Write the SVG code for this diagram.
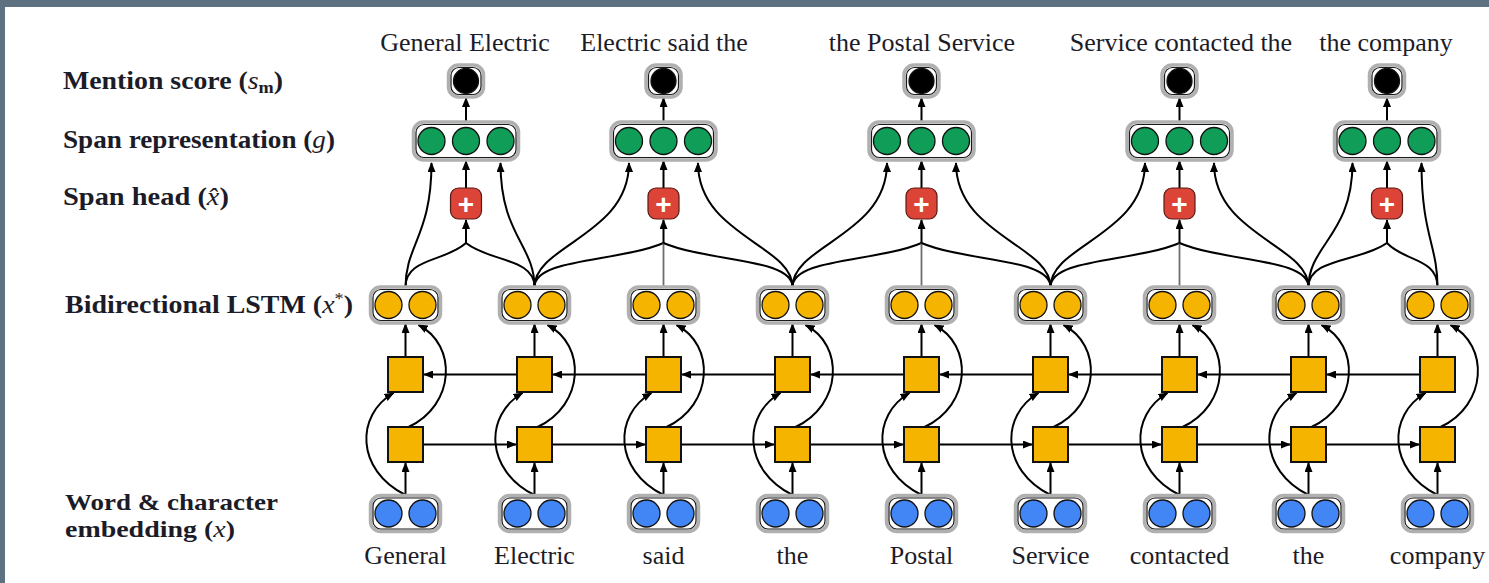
<svg xmlns="http://www.w3.org/2000/svg" xmlns:xlink="http://www.w3.org/1999/xlink" width="1489" height="583" viewBox="0 0 1489 583">
  <style>
    .frame-out { fill: #ffffff; stroke: #b0b0b0; stroke-width: 3.5; }
    .frame-in { fill: none; stroke: #1a1a1a; stroke-width: 1.2; }
    .dot { stroke: #111; stroke-width: 1.3; }
    .cell { fill: #f4b400; stroke: #111; stroke-width: 2; }
    .link { fill: none; stroke: #000; stroke-width: 2; marker-end: url(#arrow); }
    .stem { fill: none; stroke: #000; stroke-width: 2; }
    .stem-thin { fill: none; stroke: #6e6e6e; stroke-width: 1.8; }
    .plus-box { fill: #db4437; stroke: #5a1a14; stroke-width: 1.2; }
    .plus { font-family: "Liberation Sans", Arial, sans-serif; font-size: 28px; font-weight: bold; fill: #fff; text-anchor: middle; }
    .lbl { font-family: "Liberation Serif", "Times New Roman", serif; font-size: 26px; font-weight: bold; fill: #1c1c28; }
    .lbl-small { font-size: 24px; }
    .math { font-weight: normal; font-style: italic; }
    .word { font-family: "Liberation Serif", "Times New Roman", serif; font-size: 26px; fill: #1c1c28; text-anchor: middle; }
  </style>
  <defs>
    <marker id="arrow" viewBox="0 0 10 8" refX="9" refY="4" markerWidth="10" markerHeight="8" markerUnits="userSpaceOnUse" orient="auto">
      <path d="M0,0 L10,4 L0,8 z" fill="#000"/>
    </marker>
    <!-- two-unit vector (embeddings, BiLSTM output); dot colour comes from the fill on <use> -->
    <g id="pair">
      <rect class="frame-out" x="-35" y="-18" width="70" height="36" rx="10"/>
      <rect class="frame-in" x="-32.5" y="-15.5" width="65" height="31" rx="8"/>
      <circle class="dot" cx="-17" cy="0" r="13.5"/>
      <circle class="dot" cx="17" cy="0" r="13.5"/>
    </g>
    <!-- three-unit span vector -->
    <g id="triple">
      <rect class="frame-out" x="-52.5" y="-19" width="105" height="38" rx="10"/>
      <rect class="frame-in" x="-50" y="-16.5" width="100" height="33" rx="8"/>
      <circle class="dot" cx="-34.5" cy="0" r="13.5" fill="#0f9d58"/>
      <circle class="dot" cx="0" cy="0" r="13.5" fill="#0f9d58"/>
      <circle class="dot" cx="34.5" cy="0" r="13.5" fill="#0f9d58"/>
    </g>
    <!-- scalar score -->
    <g id="single">
      <rect class="frame-out" x="-17.5" y="-16" width="35" height="32" rx="10"/>
      <rect class="frame-in" x="-15" y="-13.5" width="30" height="27" rx="8"/>
      <circle class="dot" cx="0" cy="0" r="12.5" fill="#000"/>
    </g>
    <rect id="cellBox" class="cell" x="-17.5" y="-17.5" width="35" height="35"/>
    <!-- per-token links inside the LSTM block, relative to the token column -->
    <g id="tokenLinks">
      <path class="link" d="M0,495 L0,463"/>
      <path class="link" d="M0,357 L0,324"/>
      <path class="link" d="M0,495 C-50,470 -50,415 -12,393"/>
      <path class="link" d="M3,427 C50,405 52,345 13,325"/>
    </g>
    <path id="bwdLink" class="link" d="M111.5,374.5 L18.5,374.5"/>
    <path id="fwdLink" class="link" d="M17.5,444.5 L110.5,444.5"/>
  </defs>

  <rect x="0" y="0" width="1489" height="583" fill="#fff"/>
  <rect x="0" y="0" width="1489" height="7" fill="#5d7180"/>
  <rect x="0" y="0" width="5" height="583" fill="#5d7180"/>

  <!-- row labels -->
  <g id="row-labels">
    <text class="lbl" x="63" y="89" textLength="220" lengthAdjust="spacingAndGlyphs">Mention score <tspan>(</tspan><tspan class="math">s</tspan><tspan font-size="17" dy="4">m</tspan><tspan dy="-4">)</tspan></text>
    <text class="lbl" x="63" y="148" textLength="272" lengthAdjust="spacingAndGlyphs">Span representation (<tspan class="math">g</tspan>)</text>
    <text class="lbl" x="63" y="205" textLength="166" lengthAdjust="spacingAndGlyphs">Span head (<tspan class="math">x̂</tspan>)</text>
    <text class="lbl" x="65" y="313" textLength="288" lengthAdjust="spacingAndGlyphs">Bidirectional LSTM (<tspan class="math">x</tspan><tspan font-weight="normal" font-size="17" dy="-9">*</tspan><tspan dy="9">)</tspan></text>
    <text class="lbl lbl-small"><tspan x="65" y="510" textLength="213" lengthAdjust="spacingAndGlyphs">Word &amp; character</tspan><tspan x="65" dy="27" textLength="170" lengthAdjust="spacingAndGlyphs">embedding (<tspan class="math">x</tspan>)</tspan></text>
  </g>

  <!-- connectors -->
  <g id="connectors">
    <use href="#tokenLinks" x="405.5"/>
    <use href="#tokenLinks" x="534.5"/>
    <use href="#tokenLinks" x="663.5"/>
    <use href="#tokenLinks" x="792.5"/>
    <use href="#tokenLinks" x="921.5"/>
    <use href="#tokenLinks" x="1050.5"/>
    <use href="#tokenLinks" x="1179.5"/>
    <use href="#tokenLinks" x="1308.5"/>
    <use href="#tokenLinks" x="1437.5"/>

    <use href="#bwdLink" x="405.5"/>
    <use href="#bwdLink" x="534.5"/>
    <use href="#bwdLink" x="663.5"/>
    <use href="#bwdLink" x="792.5"/>
    <use href="#bwdLink" x="921.5"/>
    <use href="#bwdLink" x="1050.5"/>
    <use href="#bwdLink" x="1179.5"/>
    <use href="#bwdLink" x="1308.5"/>

    <use href="#fwdLink" x="405.5"/>
    <use href="#fwdLink" x="534.5"/>
    <use href="#fwdLink" x="663.5"/>
    <use href="#fwdLink" x="792.5"/>
    <use href="#fwdLink" x="921.5"/>
    <use href="#fwdLink" x="1050.5"/>
    <use href="#fwdLink" x="1179.5"/>
    <use href="#fwdLink" x="1308.5"/>

    <!-- span endpoints into span representations -->
    <path class="link" d="M405.5,287 C405.5,245 431.5,235 431.5,163"/>
    <path class="link" d="M534.5,287 C534.5,245 500.5,235 500.5,163"/>
    <path class="link" d="M534.5,287 C534.5,245 629,235 629,163"/>
    <path class="link" d="M792.5,287 C792.5,245 698,235 698,163"/>
    <path class="link" d="M792.5,287 C792.5,245 887,235 887,163"/>
    <path class="link" d="M1050.5,287 C1050.5,245 956,235 956,163"/>
    <path class="link" d="M1050.5,287 C1050.5,245 1145,235 1145,163"/>
    <path class="link" d="M1308.5,287 C1308.5,245 1214,235 1214,163"/>
    <path class="link" d="M1308.5,287 C1308.5,245 1352.5,235 1352.5,163"/>
    <path class="link" d="M1437.5,287 C1437.5,245 1421.5,235 1421.5,163"/>

    <!-- span tokens into the head attention -->
    <path class="stem" d="M405.5,287 C405.5,258 444.8,262 466,243"/>
    <path class="stem" d="M534.5,287 C534.5,258 490,262 466,243"/>
    <path class="stem" d="M534.5,287 C534.5,258 618.5,262 663.5,243"/>
    <path class="stem-thin" d="M663.5,287 L663.5,243"/>
    <path class="stem" d="M792.5,287 C792.5,258 708.5,262 663.5,243"/>
    <path class="stem" d="M792.5,287 C792.5,258 876.5,262 921.5,243"/>
    <path class="stem-thin" d="M921.5,287 L921.5,243"/>
    <path class="stem" d="M1050.5,287 C1050.5,258 966.5,262 921.5,243"/>
    <path class="stem" d="M1050.5,287 C1050.5,258 1134.5,262 1179.5,243"/>
    <path class="stem-thin" d="M1179.5,287 L1179.5,243"/>
    <path class="stem" d="M1308.5,287 C1308.5,258 1224.5,262 1179.5,243"/>
    <path class="stem" d="M1308.5,287 C1308.5,258 1359.5,262 1387,243"/>
    <path class="stem" d="M1437.5,287 C1437.5,258 1404.7,262 1387,243"/>

    <path class="link" d="M466,243 L466,220"/>
    <path class="link" d="M663.5,243 L663.5,220"/>
    <path class="link" d="M921.5,243 L921.5,220"/>
    <path class="link" d="M1179.5,243 L1179.5,220"/>
    <path class="link" d="M1387,243 L1387,220"/>

    <path class="link" d="M466,188 L466,161"/>
    <path class="link" d="M663.5,188 L663.5,161"/>
    <path class="link" d="M921.5,188 L921.5,161"/>
    <path class="link" d="M1179.5,188 L1179.5,161"/>
    <path class="link" d="M1387,188 L1387,161"/>

    <path class="link" d="M466,122 L466,98"/>
    <path class="link" d="M663.5,122 L663.5,98"/>
    <path class="link" d="M921.5,122 L921.5,98"/>
    <path class="link" d="M1179.5,122 L1179.5,98"/>
    <path class="link" d="M1387,122 L1387,98"/>
  </g>

  <!-- word & character embeddings -->
  <g id="embed-0"><use href="#pair" x="405.5" y="513.5" fill="#4285f4"/></g>
  <g id="embed-1"><use href="#pair" x="534.5" y="513.5" fill="#4285f4"/></g>
  <g id="embed-2"><use href="#pair" x="663.5" y="513.5" fill="#4285f4"/></g>
  <g id="embed-3"><use href="#pair" x="792.5" y="513.5" fill="#4285f4"/></g>
  <g id="embed-4"><use href="#pair" x="921.5" y="513.5" fill="#4285f4"/></g>
  <g id="embed-5"><use href="#pair" x="1050.5" y="513.5" fill="#4285f4"/></g>
  <g id="embed-6"><use href="#pair" x="1179.5" y="513.5" fill="#4285f4"/></g>
  <g id="embed-7"><use href="#pair" x="1308.5" y="513.5" fill="#4285f4"/></g>
  <g id="embed-8"><use href="#pair" x="1437.5" y="513.5" fill="#4285f4"/></g>

  <!-- forward LSTM cells -->
  <g id="fwd-0"><use href="#cellBox" x="405.5" y="444.5"/></g>
  <g id="fwd-1"><use href="#cellBox" x="534.5" y="444.5"/></g>
  <g id="fwd-2"><use href="#cellBox" x="663.5" y="444.5"/></g>
  <g id="fwd-3"><use href="#cellBox" x="792.5" y="444.5"/></g>
  <g id="fwd-4"><use href="#cellBox" x="921.5" y="444.5"/></g>
  <g id="fwd-5"><use href="#cellBox" x="1050.5" y="444.5"/></g>
  <g id="fwd-6"><use href="#cellBox" x="1179.5" y="444.5"/></g>
  <g id="fwd-7"><use href="#cellBox" x="1308.5" y="444.5"/></g>
  <g id="fwd-8"><use href="#cellBox" x="1437.5" y="444.5"/></g>

  <!-- backward LSTM cells -->
  <g id="bwd-0"><use href="#cellBox" x="405.5" y="374.5"/></g>
  <g id="bwd-1"><use href="#cellBox" x="534.5" y="374.5"/></g>
  <g id="bwd-2"><use href="#cellBox" x="663.5" y="374.5"/></g>
  <g id="bwd-3"><use href="#cellBox" x="792.5" y="374.5"/></g>
  <g id="bwd-4"><use href="#cellBox" x="921.5" y="374.5"/></g>
  <g id="bwd-5"><use href="#cellBox" x="1050.5" y="374.5"/></g>
  <g id="bwd-6"><use href="#cellBox" x="1179.5" y="374.5"/></g>
  <g id="bwd-7"><use href="#cellBox" x="1308.5" y="374.5"/></g>
  <g id="bwd-8"><use href="#cellBox" x="1437.5" y="374.5"/></g>

  <!-- BiLSTM outputs -->
  <g id="bilstm-0"><use href="#pair" x="405.5" y="305" fill="#f4b400"/></g>
  <g id="bilstm-1"><use href="#pair" x="534.5" y="305" fill="#f4b400"/></g>
  <g id="bilstm-2"><use href="#pair" x="663.5" y="305" fill="#f4b400"/></g>
  <g id="bilstm-3"><use href="#pair" x="792.5" y="305" fill="#f4b400"/></g>
  <g id="bilstm-4"><use href="#pair" x="921.5" y="305" fill="#f4b400"/></g>
  <g id="bilstm-5"><use href="#pair" x="1050.5" y="305" fill="#f4b400"/></g>
  <g id="bilstm-6"><use href="#pair" x="1179.5" y="305" fill="#f4b400"/></g>
  <g id="bilstm-7"><use href="#pair" x="1308.5" y="305" fill="#f4b400"/></g>
  <g id="bilstm-8"><use href="#pair" x="1437.5" y="305" fill="#f4b400"/></g>

  <!-- span heads -->
  <g id="head-0"><rect class="plus-box" x="450.5" y="188" width="31" height="31" rx="8"/><text class="plus" x="466" y="213.5">+</text></g>
  <g id="head-1"><rect class="plus-box" x="648" y="188" width="31" height="31" rx="8"/><text class="plus" x="663.5" y="213.5">+</text></g>
  <g id="head-2"><rect class="plus-box" x="906" y="188" width="31" height="31" rx="8"/><text class="plus" x="921.5" y="213.5">+</text></g>
  <g id="head-3"><rect class="plus-box" x="1164" y="188" width="31" height="31" rx="8"/><text class="plus" x="1179.5" y="213.5">+</text></g>
  <g id="head-4"><rect class="plus-box" x="1371.5" y="188" width="31" height="31" rx="8"/><text class="plus" x="1387" y="213.5">+</text></g>

  <!-- span representations -->
  <g id="span-0"><use href="#triple" x="466" y="141"/></g>
  <g id="span-1"><use href="#triple" x="663.5" y="141"/></g>
  <g id="span-2"><use href="#triple" x="921.5" y="141"/></g>
  <g id="span-3"><use href="#triple" x="1179.5" y="141"/></g>
  <g id="span-4"><use href="#triple" x="1387" y="141"/></g>

  <!-- mention scores -->
  <g id="score-0"><use href="#single" x="466" y="81"/></g>
  <g id="score-1"><use href="#single" x="663.5" y="81"/></g>
  <g id="score-2"><use href="#single" x="921.5" y="81"/></g>
  <g id="score-3"><use href="#single" x="1179.5" y="81"/></g>
  <g id="score-4"><use href="#single" x="1387" y="81"/></g>

  <!-- candidate spans -->
  <g id="span-texts">
    <text class="word" x="465" y="51">General Electric</text>
    <text class="word" x="664" y="51">Electric said the</text>
    <text class="word" x="922" y="51">the Postal Service</text>
    <text class="word" x="1181" y="51">Service contacted the</text>
    <text class="word" x="1386" y="51">the company</text>
  </g>

  <!-- input tokens -->
  <g id="tokens">
    <text class="word" x="405.5" y="564">General</text>
    <text class="word" x="534.5" y="564">Electric</text>
    <text class="word" x="663.5" y="564">said</text>
    <text class="word" x="792.5" y="564">the</text>
    <text class="word" x="921.5" y="564">Postal</text>
    <text class="word" x="1050.5" y="564">Service</text>
    <text class="word" x="1179.5" y="564">contacted</text>
    <text class="word" x="1308.5" y="564">the</text>
    <text class="word" x="1437.5" y="564">company</text>
  </g>
</svg>
